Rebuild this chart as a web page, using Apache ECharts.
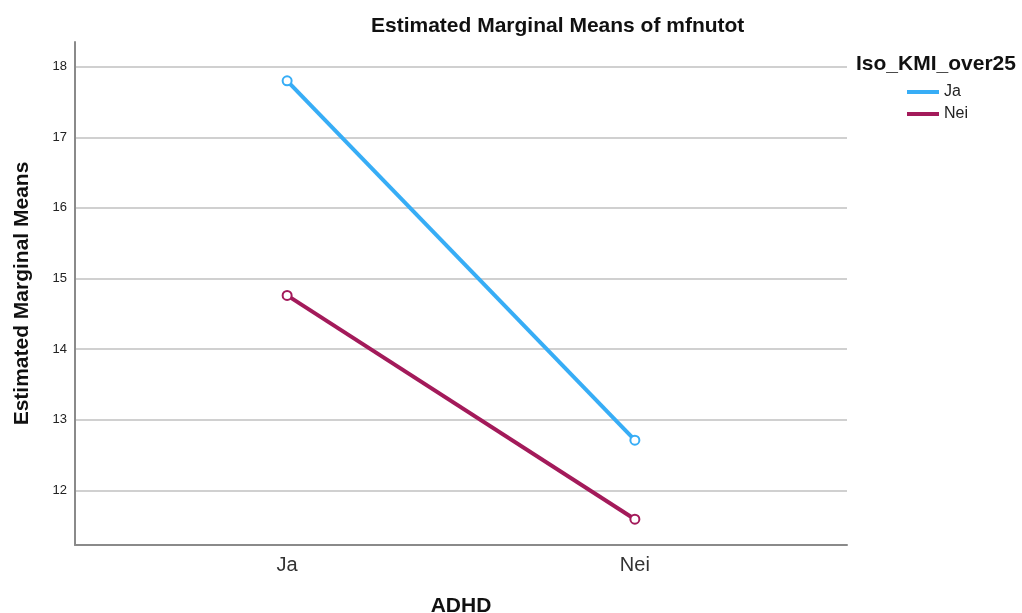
<!DOCTYPE html>
<html>
<head>
<meta charset="utf-8">
<script src="https://cdn.jsdelivr.net/npm/echarts@6/dist/echarts.min.js"></script>
<style>
  html, body { margin: 0; padding: 0; background: #fff; }
  #chart { width: 1022px; height: 613px; }
</style>
</head>
<body>
<div id="chart"></div>
<script>
// ADHD groups on the x axis
const categories = ['Ja', 'Nei'];
// Estimated marginal means of mfnutot, one line per Iso_KMI_over25 group
const seriesNames = ['Ja', 'Nei'];
const meansJa = [17.80, 12.71];
const meansNei = [14.76, 11.59];
const yTicks = [12, 13, 14, 15, 16, 17, 18];

const colors = ['#37adf6', '#a31a5a'];
const font = 'Liberation Sans, Arial, sans-serif';
const titleStyle = { fontFamily: font, fontSize: 21, fontWeight: 'bold', color: '#111' };

function toPoints(values) {
  return values.map((v, i) => [i, v]);
}

const chart = echarts.init(document.getElementById('chart'), null, { renderer: 'canvas' });

chart.setOption({
  backgroundColor: '#ffffff',
  animation: false,
  textStyle: { fontFamily: font },
  title: [
    {
      text: 'Estimated Marginal Means of mfnutot',
      left: 371,
      top: 16,
      padding: 0,
      textStyle: titleStyle
    },
    {
      text: 'Iso_KMI_over25',
      left: 856,
      top: 54,
      padding: 0,
      textStyle: titleStyle
    }
  ],
  legend: {
    orient: 'vertical',
    left: 907,
    top: 84,
    padding: 0,
    itemWidth: 32,
    itemHeight: 4,
    itemGap: 6,
    icon: 'rect',
    data: seriesNames,
    textStyle: { fontFamily: font, fontSize: 16, color: '#222', padding: [0, 0, 0, 0] }
  },
  grid: { left: 75, right: 175, top: 42, bottom: 68, outerBoundsMode: 'none', containLabel: false },
  xAxis: {
    type: 'value',
    min: -0.61,
    max: 1.61,
    name: 'ADHD',
    nameLocation: 'middle',
    nameGap: 51,
    nameTextStyle: titleStyle,
    axisLine: { show: true, onZero: false, lineStyle: { color: '#8a8a8a', width: 2 } },
    axisTick: { show: false, customValues: [0, 1] },
    splitLine: { show: false },
    axisLabel: {
      customValues: [0, 1],
      formatter: (v) => categories[Math.round(v)],
      fontFamily: font,
      fontSize: 20,
      color: '#333',
      margin: 10
    }
  },
  yAxis: {
    type: 'value',
    min: 11.225,
    max: 18.35,
    name: 'Estimated Marginal Means',
    nameLocation: 'middle',
    nameGap: 42,
    nameTextStyle: titleStyle,
    axisLine: { show: true, onZero: false, lineStyle: { color: '#8a8a8a', width: 2 } },
    axisTick: { show: false, customValues: yTicks },
    splitLine: { show: true, lineStyle: { color: '#d0d0d0', width: 2 } },
    axisLabel: {
      customValues: yTicks,
      fontFamily: font,
      fontSize: 13,
      color: '#222',
      margin: 8
    }
  },
  series: [
    {
      name: seriesNames[0],
      type: 'line',
      data: toPoints(meansJa),
      color: colors[0],
      lineStyle: { width: 4, color: colors[0] },
      symbol: 'emptyCircle',
      symbolSize: 9,
      itemStyle: { color: colors[0], borderWidth: 1.5 }
    },
    {
      name: seriesNames[1],
      type: 'line',
      data: toPoints(meansNei),
      color: colors[1],
      lineStyle: { width: 4, color: colors[1] },
      symbol: 'emptyCircle',
      symbolSize: 9,
      itemStyle: { color: colors[1], borderWidth: 1.5 }
    }
  ]
});
</script>
</body>
</html>
